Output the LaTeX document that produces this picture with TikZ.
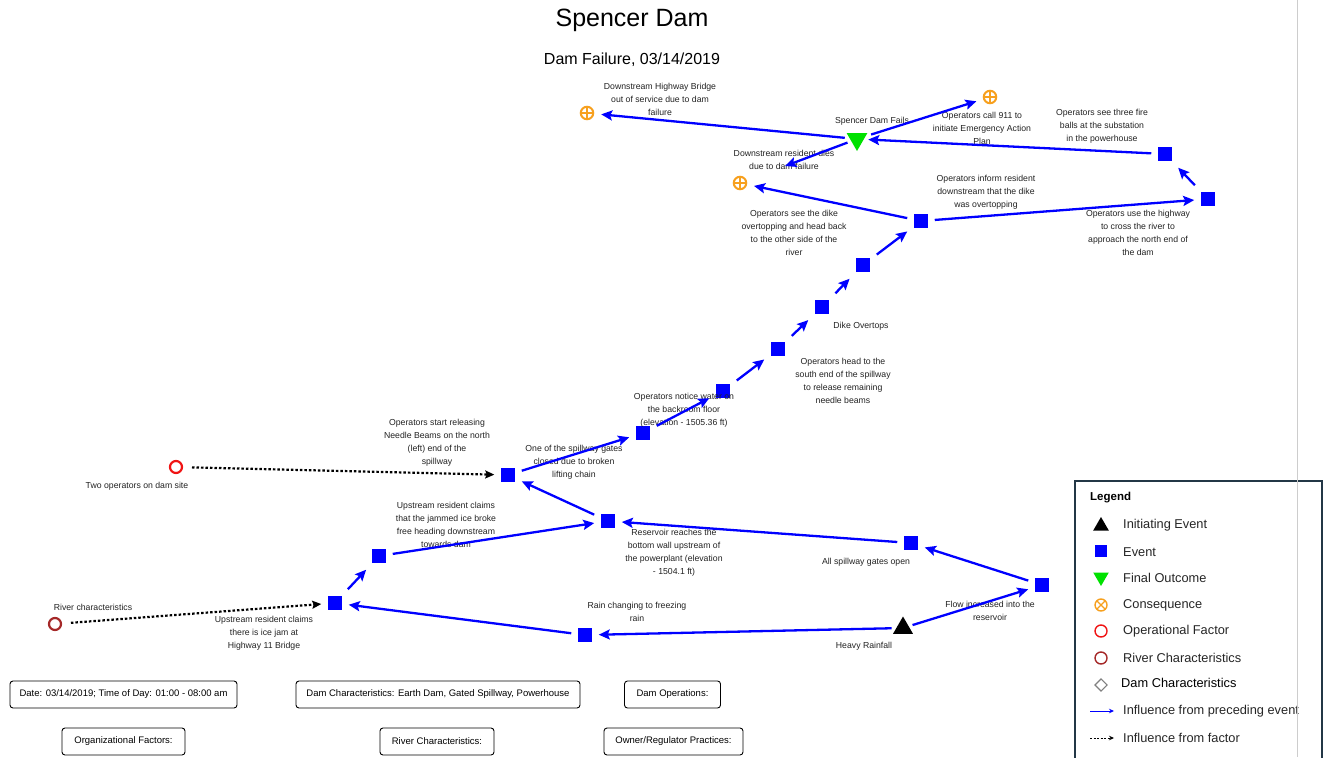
\documentclass[tikz,border=0pt]{standalone}
\usepackage{fontspec}
\setmainfont{Liberation Sans}
\usetikzlibrary{shapes.geometric,arrows.meta}
\definecolor{evblue}{RGB}{0,0,255}
\definecolor{fingreen}{RGB}{0,225,0}
\definecolor{consorange}{RGB}{247,160,30}
\definecolor{opred}{RGB}{240,20,20}
\definecolor{rivred}{RGB}{165,40,40}
\definecolor{lbl}{RGB}{35,35,35}
\definecolor{legframe}{RGB}{35,55,70}
\definecolor{vline}{RGB}{205,205,205}
\begin{document}
\begin{tikzpicture}[x=1pt,y=-1pt,
 event/.style={rectangle,fill=evblue,minimum size=13.5pt,inner sep=0pt,outer sep=7pt},
 inittri/.style={regular polygon,regular polygon sides=3,fill=black,minimum size=23pt,inner sep=0pt,outer sep=4pt},
 finaltri/.style={regular polygon,regular polygon sides=3,shape border rotate=180,fill=fingreen,minimum size=24pt,inner sep=0pt,outer sep=4pt},
 conseq/.style={circle,draw=consorange,line width=2pt,minimum size=12.5pt,inner sep=0pt,outer sep=8pt,
   path picture={\draw[consorange,line width=1.6pt] (path picture bounding box.north) -- (path picture bounding box.south) (path picture bounding box.west) -- (path picture bounding box.east);}},
 opfac/.style={circle,draw=opred,line width=2.2pt,minimum size=12pt,inner sep=0pt,outer sep=10pt},
 rivfac/.style={circle,draw=rivred,line width=2.2pt,minimum size=12pt,inner sep=0pt,outer sep=10pt},
 lab/.style={font=\fontsize{8.7}{13}\selectfont,text=lbl,align=center,inner sep=0pt},
 flow/.style={draw=evblue,line width=2.3pt,-{Stealth[length=11pt,width=10pt,inset=2pt]}},
 factor/.style={draw=black,line width=2.2pt,dash pattern=on 2.5pt off 2pt,-{Stealth[length=9pt,width=8pt,inset=1.5pt]}},
 infobox/.style={draw=black,rounded corners=3pt,line width=0.9pt,font=\fontsize{9.5}{11}\selectfont,minimum height=27pt,inner sep=0pt},
 legtxt/.style={font=\fontsize{12.8}{15}\selectfont,text=black!85,anchor=west,inner sep=0pt}
]
\useasboundingbox (0,0) rectangle (1324,757);
\fill[white] (0,0) rectangle (1324,757);

% title
\node[font=\fontsize{25}{28}\selectfont] (title) at (632,20) {Spencer Dam};
\node[font=\fontsize{16}{18}\selectfont] (subtitle) at (632,60) {Dam Failure, 03/14/2019};

% nodes
\node[inittri] (heavy) at (903,628) {};
\node[finaltri] (final) at (857,139) {};
\node[conseq] (c1) at (587,113) {};
\node[conseq] (c2) at (990,97) {};
\node[conseq] (c3) at (740,183) {};
\node[event] (fire) at (1165,154) {};
\node[event] (highway) at (1208,199) {};
\node[event] (inform) at (921,221) {};
\node[event] (seedike) at (863,265) {};
\node[event] (dike) at (822,307) {};
\node[event] (south) at (778,349) {};
\node[event] (notice) at (723,391) {};
\node[event] (gates) at (643,433) {};
\node[event] (needle) at (508,475) {};
\node[event] (reservoir) at (608,521) {};
\node[event] (allgates) at (911,543) {};
\node[event] (flowin) at (1042,585) {};
\node[event] (rain) at (585,635) {};
\node[event] (icejam) at (335,603) {};
\node[event] (icebroke) at (379,556) {};
\node[opfac] (fops) at (176,467) {};
\node[rivfac] (friver) at (55,624) {};

% labels
\node[lab] (l-final) at (872,121) {Spencer Dam Fails};
\node[lab] (l-c1) at (660,99) {Downstream Highway Bridge\\out of service due to dam\\failure};
\node[lab] (l-c2) at (982,128) {Operators call 911 to\\initiate Emergency Action\\Plan};
\node[lab] (l-c3) at (784,159.5) {Downstream resident dies\\due to dam failure};
\node[lab] (l-fire) at (1102,126) {Operators see three fire\\balls at the substation\\in the powerhouse};
\node[lab] (l-highway) at (1138,232.5) {Operators use the highway\\to cross the river to\\approach the north end of\\the dam};
\node[lab] (l-inform) at (986,192) {Operators inform resident\\downstream that the dike\\was overtopping};
\node[lab] (l-seedike) at (794,233) {Operators see the dike\\overtopping and head back\\to the other side of the\\river};
\node[lab] (l-dike) at (861,326) {Dike Overtops};
\node[lab] (l-south) at (843,380.5) {Operators head to the\\south end of the spillway\\to release remaining\\needle beams};
\node[lab] (l-notice) at (684,410) {Operators notice water on\\the backroom floor\\(elevation - 1505.36 ft)};
\node[lab] (l-gates) at (574,462) {One of the spillway gates\\closed due to broken\\lifting chain};
\node[lab] (l-needle) at (437,443) {Operators start releasing\\Needle Beams on the north\\(left) end of the\\spillway};
\node[lab] (l-reservoir) at (674,552.5) {Reservoir reaches the\\bottom wall upstream of\\the powerplant (elevation\\- 1504.1 ft)};
\node[lab] (l-allgates) at (866,562) {All spillway gates open};
\node[lab] (l-flowin) at (990,610.5) {Flow increased into the\\reservoir};
\node[lab] (l-heavy) at (864,646) {Heavy Rainfall};
\node[lab] (l-rain) at (637,611.5) {Rain changing to freezing\\rain};
\node[lab] (l-icejam) at (264,633) {Upstream resident claims\\there is ice jam at\\Highway 11 Bridge};
\node[lab] (l-icebroke) at (446,524.5) {Upstream resident claims\\that the jammed ice broke\\free heading downstream\\towards dam};
\node[lab] (l-fops) at (137,486) {Two operators on dam site};
\node[lab] (l-friver) at (93,607) {River characteristics};

% connectors
\draw[flow] (heavy) -- (rain);
\draw[flow] (heavy) -- (flowin);
\draw[flow] (flowin) -- (allgates);
\draw[flow] (allgates) -- (reservoir);
\draw[flow] (rain) -- (icejam);
\draw[flow] (icejam) -- (icebroke);
\draw[flow] (icebroke) -- (reservoir);
\draw[flow] (reservoir) -- (needle);
\draw[flow] (needle) -- (gates);
\draw[flow] (gates) -- (notice);
\draw[flow] (notice) -- (south);
\draw[flow] (south) -- (dike);
\draw[flow] (dike) -- (seedike);
\draw[flow] (seedike) -- (inform);
\draw[flow] (inform) -- (highway);
\draw[flow] (highway) -- (fire);
\draw[flow] (fire) -- (final);
\draw[flow] (final) -- (c1);
\draw[flow] (final) -- (c2);
\draw[flow,shorten >=34pt] (final) -- (c3);
\draw[flow] (inform) -- (c3);
\draw[factor] (fops) -- (needle);
\draw[factor] (friver) -- (icejam);

% info boxes
\node[infobox,minimum width=227pt] (b-date) at (123.5,694.5) {Date: 03/14/2019; Time of Day: 01:00 - 08:00 am};
\node[infobox,minimum width=284pt] (b-damchar) at (438,694.5) {Dam Characteristics: Earth Dam, Gated Spillway, Powerhouse};
\node[infobox,minimum width=96pt] (b-damops) at (672.5,694.5) {Dam Operations:};
\node[infobox,minimum width=123pt] (b-org) at (123.5,741.5) {Organizational Factors:};
\node[infobox,minimum width=114pt] (b-river) at (437,741.5) {River Characteristics:};
\node[infobox,minimum width=139pt] (b-owner) at (673.5,741.5) {Owner/Regulator Practices:};

% legend
\fill[white] (1075,481) rectangle (1322,770);
\node[font=\fontsize{11.5}{13}\selectfont\bfseries,anchor=west,inner sep=0pt] (leg-title) at (1090,498) {Legend};
\node[regular polygon,regular polygon sides=3,fill=black,minimum size=18pt,inner sep=0pt] (leg-s1) at (1101,526) {};
\node[legtxt] (leg-t1) at (1123,525) {Initiating Event};
\node[rectangle,fill=evblue,minimum size=12pt,inner sep=0pt] (leg-s2) at (1101,551) {};
\node[legtxt] (leg-t2) at (1123,552) {Event};
\node[regular polygon,regular polygon sides=3,shape border rotate=180,fill=fingreen,minimum size=18pt,inner sep=0pt] (leg-s3) at (1101,577) {};
\node[legtxt] (leg-t3) at (1123,578) {Final Outcome};
\node[circle,draw=consorange,line width=1.4pt,minimum size=12pt,inner sep=0pt,
  path picture={\draw[consorange,line width=1.2pt] (path picture bounding box.north west) -- (path picture bounding box.south east) (path picture bounding box.south west) -- (path picture bounding box.north east);}] (leg-s4) at (1101,605) {};
\node[legtxt] (leg-t4) at (1123,605) {Consequence};
\node[circle,draw=opred,line width=1.4pt,minimum size=12pt,inner sep=0pt] (leg-s5) at (1101,631) {};
\node[legtxt] (leg-t5) at (1123,631) {Operational Factor};
\node[circle,draw=rivred,line width=1.4pt,minimum size=12pt,inner sep=0pt] (leg-s6) at (1101,658) {};
\node[legtxt] (leg-t6) at (1123,658) {River Characteristics};
\node[diamond,draw=gray,line width=1.1pt,minimum size=12.5pt,inner sep=0pt] (leg-s7) at (1101,685) {};
\node[legtxt,text=black] (leg-t7) at (1121,683) {Dam Characteristics};
\coordinate (leg-a1) at (1090,711);
\coordinate (leg-b1) at (1114,711);
\draw[evblue,line width=1pt,-{Stealth[length=5pt,width=4.5pt]}] (leg-a1) -- (leg-b1);
\node[legtxt] (leg-t8) at (1123,711) {Influence from preceding event};
\coordinate (leg-a2) at (1090,738);
\coordinate (leg-b2) at (1114,738);
\draw[black,line width=1pt,dash pattern=on 2pt off 1.5pt,-{Stealth[length=5pt,width=4.5pt]}] (leg-a2) -- (leg-b2);
\node[legtxt] (leg-t9) at (1123,738) {Influence from factor};
\draw[legframe,line width=1.1pt] (1322,770) -- (1075,770) -- (1075,481) -- (1322,481) -- cycle;
\draw[legframe,line width=2pt] (1322,481) -- (1322,770);

% page edge line
\draw[vline,line width=0.8pt] (1297,0) -- (1297,757);
\end{tikzpicture}
\end{document}
